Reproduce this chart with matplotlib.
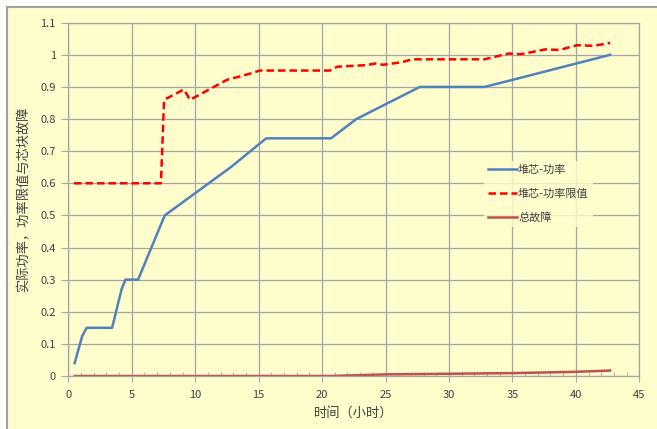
import matplotlib
matplotlib.use("Agg")
import matplotlib.pyplot as plt
from matplotlib.patches import Rectangle
from matplotlib.ticker import MultipleLocator, FuncFormatter

plt.rcParams['font.family'] = ['Noto Sans CJK SC', 'DejaVu Sans']

# 堆芯-功率
power_t = [0.5, 1.1, 1.45, 3.45, 4.2, 4.5, 5.5, 7.6, 12.8, 15.6, 20.7, 22.7, 27.7, 32.8, 34.9, 42.7]
power_v = [0.04, 0.125, 0.15, 0.15, 0.27, 0.30, 0.30, 0.50, 0.65, 0.74, 0.74, 0.80, 0.90, 0.90, 0.921, 1.0]

# 堆芯-功率限值
limit_t = [0.45, 7.3, 7.55, 9.1, 9.6, 12.5, 14.2, 15.1, 20.6, 21.2, 23.5, 24.2, 24.8, 26.3, 27.1,
           32.8, 34.7, 35.7, 37.6, 38.7, 40.1, 41.4, 42.7]
limit_v = [0.60, 0.60, 0.86, 0.892, 0.86, 0.922, 0.94, 0.951, 0.951, 0.963, 0.968, 0.973, 0.969, 0.977,
           0.986, 0.986, 1.004, 1.002, 1.017, 1.015, 1.03, 1.028, 1.037]

# 总故障
fault_t = [0.5, 20.6, 25, 30, 35, 40, 42.7]
fault_v = [0.0, 0.0, 0.005, 0.007, 0.009, 0.013, 0.017]

bg = '#FFFDCC'
grid_c = '#A5A5A5'
txt_c = '#404040'

fig = plt.figure(figsize=(6.57, 4.29), dpi=100, facecolor='white')
fig.patches.append(Rectangle((7 / 657, -0.01), 1.0, 1 - 7 / 429 + 0.01, transform=fig.transFigure,
                             facecolor=bg, edgecolor='#A0A0A0', linewidth=1.5, zorder=-10))

ax = fig.add_axes([68.3 / 657, 1 - 376 / 429, (639.3 - 68.3) / 657, (376 - 22.7) / 429])
ax.set_zorder(1)
ax.set_facecolor(bg)

ax.plot(power_t, power_v, color='#4F81BD', linewidth=1.8, label='堆芯-功率')
ax.plot(limit_t, limit_v, color='#FF0000', linewidth=1.8, linestyle=(0, (3, 1.6)), label='堆芯-功率限值')
ax.plot(fault_t, fault_v, color='#C0504D', linewidth=1.8, label='总故障')

ax.set_xlim(0, 45)
ax.set_ylim(0, 1.1)
ax.xaxis.set_major_locator(MultipleLocator(5))
ax.xaxis.set_minor_locator(MultipleLocator(1))
ax.yaxis.set_major_locator(MultipleLocator(0.1))
ax.yaxis.set_major_formatter(FuncFormatter(lambda v, p: f"{v:.1f}".rstrip('0').rstrip('.')))

ax.grid(True, which='major', color=grid_c, linewidth=0.9)
ax.set_axisbelow(True)
for s in ax.spines.values():
    s.set_color(grid_c)
    s.set_linewidth(0.9)

ax.tick_params(axis='x', which='major', direction='out', length=4, color=grid_c, labelsize=8,
               labelcolor=txt_c, pad=6)
ax.tick_params(axis='x', which='minor', direction='in', length=3, color=grid_c)
ax.tick_params(axis='y', which='major', direction='out', length=5, color=grid_c, labelsize=8,
               labelcolor=txt_c, pad=4)

ax.set_xlabel('时间（小时）', fontsize=9.5, color=txt_c, labelpad=5)
ax.set_ylabel('实际功率，功率限值与芯块故障', fontsize=9.5, color=txt_c, labelpad=7)

leg = ax.legend(loc='upper left', bbox_to_anchor=((478 - 68.3) / 571, (376 - 155) / 353.3),
                frameon=True, fontsize=8, handlelength=2.6, handletextpad=0.1,
                labelspacing=1.2, borderpad=0.4, labelcolor=txt_c)
leg.get_frame().set_facecolor(bg)
leg.get_frame().set_edgecolor('none')
leg.get_frame().set_boxstyle('square', pad=0)

fig.savefig('out.png', dpi=100, facecolor=fig.get_facecolor())
